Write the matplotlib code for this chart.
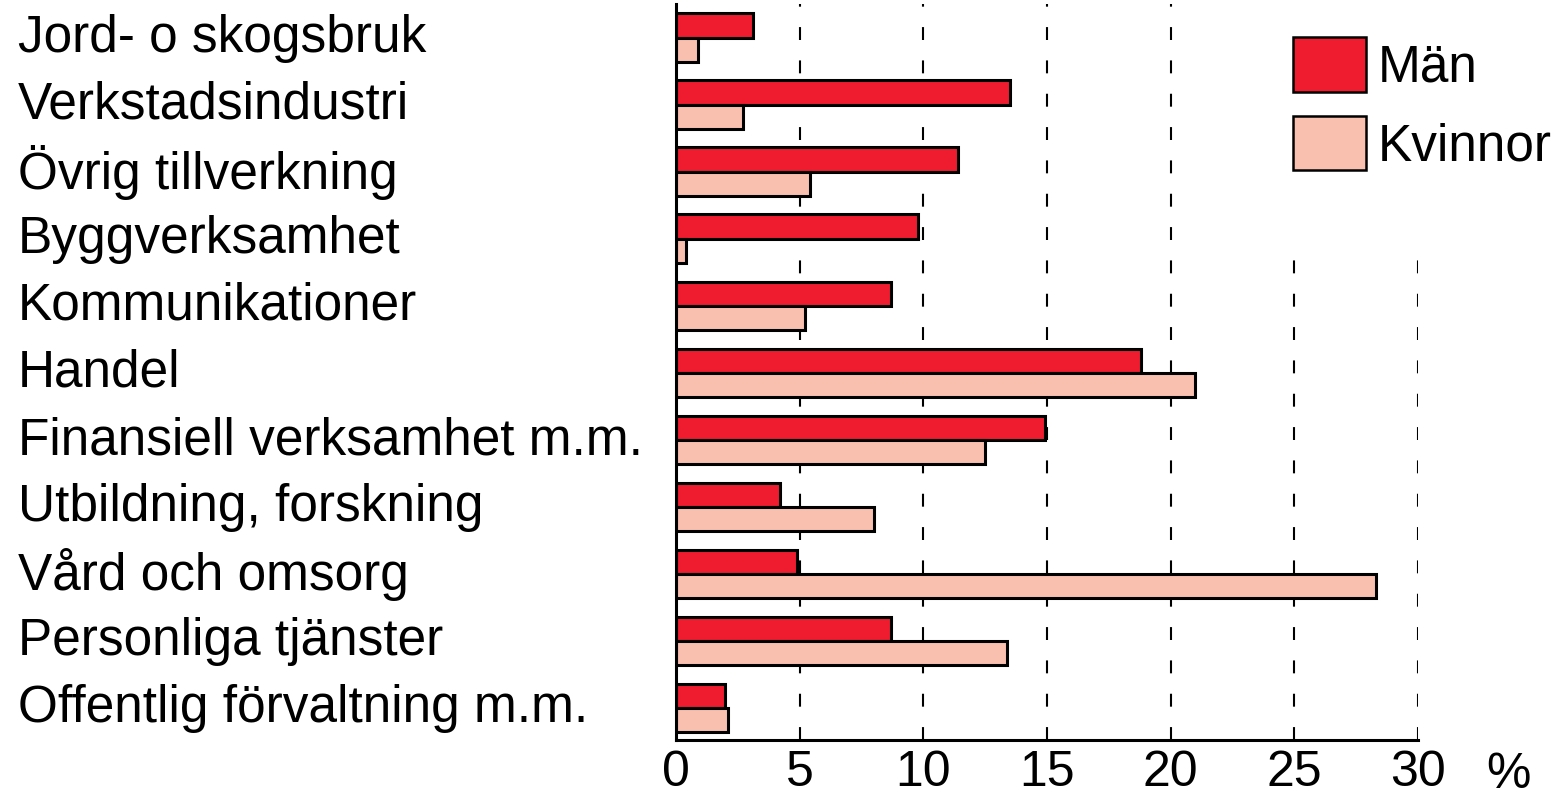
import matplotlib.pyplot as plt
import numpy as np

# andel sysselsatta per naringsgren, procent
branscher = ["Jord- o skogsbruk", "Verkstadsindustri", "Övrig tillverkning",
             "Byggverksamhet", "Kommunikationer", "Handel",
             "Finansiell verksamhet m.m.", "Utbildning, forskning",
             "Vård och omsorg", "Personliga tjänster",
             "Offentlig förvaltning m.m."]
man = [3.1, 13.5, 11.4, 9.8, 8.7, 18.8, 14.9, 4.2, 4.9, 8.7, 2.0]
kvinnor = [0.9, 2.7, 5.4, 0.4, 5.2, 21.0, 12.5, 8.0, 28.3, 13.4, 2.1]
xticks = [0, 5, 10, 15, 20, 25, 30]

plt.rcParams['font.family'] = ['Liberation Sans', 'DejaVu Sans']

fig = plt.figure(figsize=(15.66, 7.98), dpi=100)
ax = fig.add_axes([676 / 1566, 58 / 798, 742 / 1566, 736 / 798])

y = np.arange(len(branscher))
h = 0.36
ax.barh(y - h / 2, man, height=h, color='#ee1c2e', edgecolor='black',
        linewidth=2.2, label='Män', zorder=3)
ax.barh(y + h / 2, kvinnor, height=h, color='#fac0af', edgecolor='black',
        linewidth=2.2, label='Kvinnor', zorder=3)

# streckade stodlinjer, de tva hogsta slutar under legenden
for x in xticks[1:]:
    top = 0.652 if x >= 25 else 1.0
    ax.axvline(x, ymin=0, ymax=top, color='black', linewidth=1.5,
               linestyle=(0, (6.2, 9.8)), zorder=1)

ax.set_xlim(0, 30)
ax.set_ylim(10.48, -0.5)
ax.set_xticks(xticks)
ax.set_xticklabels([str(t) for t in xticks], fontsize=36)
# etiketterna sitter lite ovanfor stapelparets mitt
ax.set_yticks(y - 0.07)
ax.set_yticklabels(branscher, fontsize=37)
for lab in ax.get_yticklabels():
    lab.set_horizontalalignment('left')
ax.tick_params(axis='y', length=0, pad=473.8)
ax.tick_params(axis='x', length=0, pad=7)

for side in ['top', 'right']:
    ax.spines[side].set_visible(False)
ax.spines['left'].set_linewidth(2.2)
ax.spines['bottom'].set_linewidth(2.2)
ax.spines['left'].set_zorder(4)

ax.text(1.122, -0.065, '%', transform=ax.transAxes, fontsize=36,
        ha='center', va='baseline')

leg = ax.legend(loc='upper left', bbox_to_anchor=(1293 / 1566, 1 - 37 / 798),
                bbox_transform=fig.transFigure, frameon=False, fontsize=37,
                borderpad=0, borderaxespad=0, handlelength=1.42,
                handleheight=1.26, labelspacing=0.45, handletextpad=0.22)
for p in leg.get_patches():
    p.set_linewidth(1.8)

fig.savefig('out.png', dpi=100)
